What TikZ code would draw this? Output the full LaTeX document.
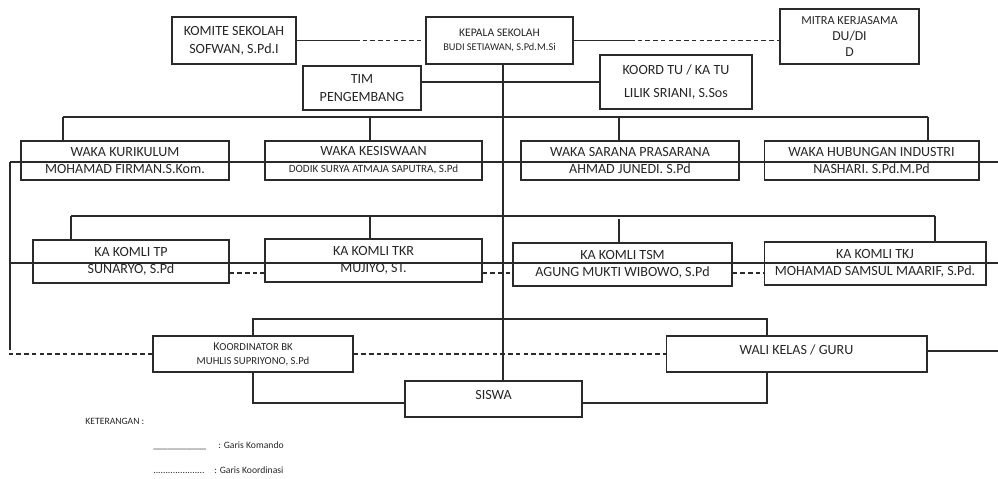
\documentclass[tikz,border=0pt]{standalone}
\usepackage{fontspec}
\setmainfont{Carlito}
\usetikzlibrary{positioning}
\definecolor{garis}{HTML}{2A2A2A}
\definecolor{teks}{HTML}{262626}
\tikzset{
  jab/.style={draw=garis, line width=0.6pt, align=center, inner sep=1pt,
    text=teks, font=\fontsize{8}{10.2}\selectfont},
  waka/.style={jab, minimum height=0.78cm, font=\fontsize{8}{9.6}\selectfont},
  komli/.style={jab, minimum height=0.86cm, font=\fontsize{8}{10}\selectfont},
  bawah/.style={jab, minimum height=0.72cm, text height=5pt, text depth=4pt},
  komando/.style={draw=garis, line width=0.6pt},
  koordinasi/.style={komando, dash pattern=on 2.6pt off 1.8pt},
  ket/.style={inner sep=0pt, text=teks, font=\fontsize{5.5}{6.5}\selectfont}}

\begin{document}
\begin{tikzpicture}[x=0.02cm, y=-0.02cm]
  \useasboundingbox (0,0) rectangle (998,479);
  % pimpinan
  \node[jab, minimum width=2.48cm, minimum height=0.94cm] (komite) at (234,40.5)
    {KOMITE SEKOLAH\\ SOFWAN, S.Pd.I};
  \node[jab, minimum width=2.94cm, minimum height=0.94cm,
    font=\fontsize{6.6}{7.6}\selectfont] (kepala) at (499.5,40.5)
    {KEPALA SEKOLAH\\ {\fontsize{5.9}{7.6}\selectfont BUDI SETIAWAN, S.Pd.M.Si}};
  \node[jab, minimum width=2.78cm, minimum height=1.10cm,
    font=\fontsize{7.8}{9}\selectfont] (mitra) at (849.5,36.5)
    {{\fontsize{7}{9}\selectfont MITRA KERJASAMA}\\ DU/DI\\ D};
  \node[jab, minimum width=2.36cm, minimum height=0.88cm] (tim) at (362,88)
    {TIM\\ PENGEMBANG};
  \node[jab, minimum width=3.04cm, minimum height=1.08cm,
    font=\fontsize{8}{13.6}\selectfont] (tu) at (676,82)
    {KOORD TU / KA TU\\ LILIK SRIANI, S.Sos};
  % wakil kepala
  \node[waka, minimum width=4.16cm] (kurikulum) at (125,160.5)
    {WAKA KURIKULUM\\ MOHAMAD FIRMAN.S.Kom.};
  \node[waka, minimum width=4.34cm] (kesiswaan) at (373.5,160.5)
    {WAKA KESISWAAN\\ {\fontsize{6.3}{9.6}\selectfont DODIK SURYA ATMAJA SAPUTRA, S.Pd}};
  \node[waka, minimum width=4.36cm] (sarana) at (630,160.5)
    {WAKA SARANA PRASARANA\\ AHMAD JUNEDI. S.Pd};
  \node[waka, minimum width=4.30cm] (hubin) at (871.5,160.5)
    {WAKA HUBUNGAN INDUSTRI\\ NASHARI. S.Pd.M.Pd};
  % kepala kompetensi keahlian
  \node[komli, minimum width=3.92cm] (tp) at (131,261.5)
    {KA KOMLI TP\\ SUNARYO, S.Pd};
  \node[komli, minimum width=4.34cm] (tkr) at (373.5,260.5)
    {KA KOMLI TKR\\ MUJIYO, ST.};
  \node[komli, minimum width=4.38cm] (tsm) at (622.5,264.5)
    {KA KOMLI TSM\\ AGUNG MUKTI WIBOWO, S.Pd};
  \node[komli, minimum width=4.44cm] (tkj) at (875,263.5)
    {KA KOMLI TKJ\\ MOHAMAD SAMSUL MAARIF, S.Pd.};
  % bk, wali kelas, siswa
  \node[jab, minimum width=4.00cm, minimum height=0.72cm,
    font=\fontsize{6.1}{8}\selectfont] (bk) at (253,354)
    {{\fontsize{6.8}{8}\selectfont K}OORDINATOR BK\\ MUHLIS SUPRIYONO, S.Pd};
  \node[bawah, minimum width=5.22cm] (wali) at (796.5,354) {WALI KELAS / GURU};
  \node[bawah, minimum width=3.54cm] (siswa) at (493.5,399) {SISWA};

  % garis atas
  \coordinate (tulang) at (503,0);
  \draw[komando] (kepala.south -| tulang) -- (siswa.north -| tulang);
  \coordinate (k1) at (355,40.5);
  \draw[komando] (komite.east) -- (k1);
  \draw[koordinasi] (k1) -- (kepala.west);
  \coordinate (k2) at (630,40.5);
  \draw[komando] (kepala.east) -- (k2);
  \draw[koordinasi] (k2) -- (k2 -| mitra.west);
  \draw[komando] (tim.east |- tu.west) -- (tu.west);

  % garis waka
  \coordinate (w1) at (63,117);
  \coordinate (w2) at (370,117);
  \coordinate (w3) at (619,117);
  \coordinate (w4) at (928,117);
  \draw[komando] (w1) -- (w4);
  \foreach \t/\n in {w1/kurikulum, w2/kesiswaan, w3/sarana, w4/hubin}
    \draw[komando] (\t) -- (\t |- \n.north);
  \coordinate (kiri1) at (10,162);
  \coordinate (kanan1) at (998,162);
  \draw[komando] (kiri1) -- (kanan1);
  \coordinate (kiri3) at (10,345);
  \draw[komando] (kiri1) -- (kiri3);
  \draw[koordinasi] (kiri3) |- (bk.west);

  % garis komli
  \coordinate (m1) at (71,216);
  \coordinate (m2) at (370,216);
  \coordinate (m3) at (619,219);
  \coordinate (m4) at (935,216);
  \draw[komando] (m1) -- (m4);
  \foreach \t/\n in {m1/tp, m2/tkr, m3/tsm, m4/tkj}
    \draw[komando] (\t) -- (\t |- \n.north);
  \coordinate (kiri2) at (10,263);
  \coordinate (kanan2) at (998,263);
  \draw[komando] (kiri2) -- (kanan2);
  \coordinate (putus) at (0,273);
  \draw[koordinasi] (tp.east |- putus) -- (tkr.west |- putus);
  \draw[koordinasi] (tkr.east |- putus) -- (tsm.west |- putus);
  \draw[koordinasi] (tsm.east |- putus) -- (tkj.west |- putus);

  % garis bawah
  \coordinate (a1) at (767,319);
  \coordinate (a2) at (767,403);
  \draw[komando] (bk.north) |- (a1) -- (a1 |- wali.north);
  \draw[komando] (bk.south) |- (siswa.west |- a2);
  \draw[komando] (a1 |- wali.south) -- (a2) -- (siswa.east |- a2);
  \draw[koordinasi] (bk.east) -- (wali.west);
  \coordinate (kanan3) at (998,351);
  \draw[komando] (wali.east |- kanan3) -- (kanan3);

  % keterangan
  \node[ket, anchor=west] (ket) at (85,421) {KETERANGAN :};
  \node[ket, anchor=base west] (gk) at (153,449) {\_\_\_\_\_\_\_\_\_\_\_};
  \node[ket, anchor=base west] (gkt) at (218,449) {: Garis Komando};
  \node[ket, anchor=base west] (gd) at (153,474) {.....................};
  \node[ket, anchor=base west] (gdt) at (214,474) {: Garis Koordinasi};
\end{tikzpicture}
\end{document}
